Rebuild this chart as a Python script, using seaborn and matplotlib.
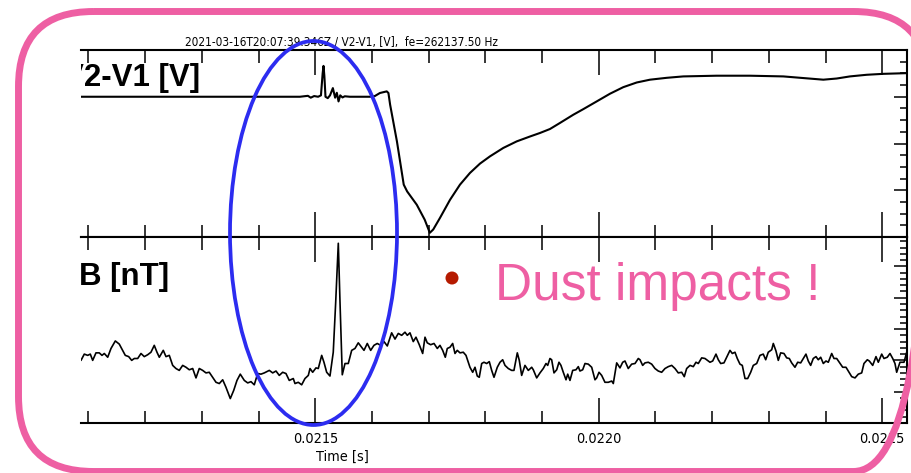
import numpy as np
import matplotlib
matplotlib.use("Agg")
import matplotlib.pyplot as plt
import seaborn as sns
from matplotlib import font_manager as fm
from matplotlib.ticker import MultipleLocator, FormatStrFormatter, NullFormatter
from matplotlib.patches import FancyBboxPatch, Ellipse
from matplotlib.transforms import Affine2D

# ---- V2-V1 antenna voltage (time in microseconds, volts) ----
v_time_us = [21086.8, 21473, 21487, 21492, 21498, 21505, 21510, 21513, 21514.5, 21516,
             21518, 21522, 21526, 21531, 21535, 21538, 21541, 21544, 21548, 21552,
             21561, 21596, 21605, 21614, 21626, 21629, 21632, 21644, 21656, 21662,
             21679, 21693, 21702, 21708, 21720, 21737.6, 21755.2, 21772.8, 21790.5, 21808.1,
             21831.6, 21855.2, 21878.7, 21896.3, 21913.9, 21931.6, 21955.0, 21972.7, 21996.3, 22019.8,
             22043.2, 22066.9, 22090.3, 22119.8, 22149.0, 22207.9, 22266.7, 22325.4, 22360.7, 22396.0,
             22419.6, 22443.0, 22472.5, 22501.8, 22544.0]
v_volts = [0.0, 0.0, 0.004, -0.004, 0.003, 0.0, 0.006, 0.10, 0.132, 0.09,
           0.0, -0.006, 0.006, 0.037, -0.004, 0.017, -0.020, 0.006, -0.003, 0.002,
           0.0, 0.0, 0.003, 0.016, 0.023, 0.016, -0.034, -0.191, -0.376, -0.405,
           -0.462, -0.526, -0.582, -0.568, -0.518, -0.441, -0.376, -0.326, -0.286, -0.255,
           -0.219, -0.191, -0.170, -0.155, -0.138, -0.112, -0.077, -0.053, -0.020, 0.013,
           0.041, 0.061, 0.073, 0.081, 0.087, 0.090, 0.090, 0.087, 0.080, 0.073,
           0.078, 0.087, 0.094, 0.098, 0.101]

# ---- search-coil magnetic field (time in microseconds, nT) ----
b_time_us = [21086.8, 21092.6, 21098.6, 21103.2, 21107.4, 21113.2, 21119.0, 21123.8, 21127.9, 21133.9,
             21139.7, 21147.3, 21154.3, 21160.3, 21164.9, 21170.9, 21176.2, 21180.8, 21186.8, 21192.6,
             21198.4, 21204.4, 21210.2, 21216.0, 21220.8, 21224.9, 21231.9, 21236.7, 21242.5, 21248.5,
             21254.3, 21260.1, 21266.1, 21272.0, 21277.8, 21283.8, 21289.6, 21295.4, 21301.4, 21307.2,
             21313.0, 21319.0, 21324.9, 21330.7, 21336.7, 21342.5, 21350.1, 21356.1, 21361.9, 21367.7,
             21374.8, 21380.8, 21386.6, 21392.4, 21398.4, 21404.2, 21410.1, 21418.9, 21424.9, 21430.7,
             21436.5, 21442.5, 21448.3, 21454.1, 21461.2, 21464.2, 21470.0, 21476.0, 21481.8, 21487.7,
             21490.7, 21495.4, 21501.2, 21505.3, 21511.3, 21515.3, 21520.1, 21525.9, 21531.7, 21536.0,
             21540.6, 21543.6, 21547.6, 21552.4, 21558.2, 21564.2, 21570.0, 21575.8, 21581.8, 21585.9,
             21591.7, 21597.7, 21603.5, 21609.3, 21615.3, 21621.2, 21627.0, 21634.7, 21640.6, 21646.4,
             21652.4, 21658.2, 21662.3, 21667.0, 21672.8, 21677.6, 21683.4, 21689.4, 21693.5, 21697.5,
             21703.5, 21709.4, 21715.2, 21719.9, 21724.7, 21729.3, 21732.8, 21737.6, 21742.3, 21746.4,
             21750.4, 21755.2, 21761.0, 21765.8, 21769.8, 21772.8, 21777.6, 21781.7, 21785.7, 21789.2,
             21793.5, 21797.5, 21802.3, 21806.9, 21811.1, 21815.2, 21821.0, 21825.8, 21830.5, 21834.6,
             21840.4, 21846.4, 21850.4, 21856.3, 21859.8, 21864.0, 21869.8, 21875.7, 21881.7, 21884.5,
             21890.5, 21896.3, 21902.1, 21906.9, 21909.9, 21913.9, 21916.9, 21921.0, 21925.8, 21929.8,
             21933.3, 21937.4, 21942.2, 21945.2, 21949.2, 21954.0, 21959.8, 21963.9, 21966.8, 21971.6,
             21975.7, 21981.5, 21987.5, 21993.3, 21996.3, 22000.4, 22005.1, 22010.9, 22016.8, 22022.8,
             22025.6, 22031.6, 22037.4, 22042.2, 22046.2, 22052.0, 22058.0, 22063.9, 22069.7, 22072.7,
             22077.4, 22081.5, 22087.3, 22093.3, 22099.1, 22104.9, 22110.9, 22116.8, 22122.6, 22128.6,
             22134.4, 22140.2, 22146.2, 22150.8, 22155.0, 22160.9, 22166.7, 22171.4, 22175.5, 22181.5,
             22187.3, 22193.1, 22196.1, 22200.9, 22206.7, 22210.8, 22215.0, 22220.8, 22225.6, 22231.4,
             22235.5, 22240.2, 22244.3, 22249.0, 22253.1, 22257.9, 22262.6, 22267.9, 22272.5, 22278.5,
             22284.3, 22290.1, 22294.4, 22298.9, 22305.0, 22307.8, 22312.5, 22316.6, 22320.8, 22326.6,
             22331.4, 22336.0, 22340.2, 22346.0, 22350.8, 22356.1, 22360.7, 22365.4, 22369.5, 22373.7,
             22378.3, 22383.1, 22387.1, 22391.4, 22396.0, 22400.7, 22404.8, 22410.8, 22414.8, 22419.6,
             22424.2, 22430.2, 22436.0, 22440.1, 22446.1, 22451.9, 22457.7, 22463.7, 22467.7, 22473.6,
             22477.1, 22483.1, 22488.9, 22493.0, 22499.0, 22503.0, 22508.8, 22513.6, 22518.4, 22522.4,
             22525.4, 22531.2, 22538.3, 22543.1]
b_nT = [0.00, 0.10, 0.08, 0.10, 0.00, 0.12, 0.12, 0.08, 0.11, 0.05,
        0.19, 0.31, 0.26, 0.16, 0.08, 0.06, 0.00, 0.03, 0.03, 0.11,
        0.06, 0.09, 0.13, 0.24, 0.13, 0.05, 0.16, 0.06, 0.08, -0.08,
        -0.13, -0.16, -0.08, -0.11, -0.15, -0.13, -0.28, -0.13, -0.16, -0.20,
        -0.19, -0.27, -0.35, -0.37, -0.31, -0.43, -0.61, -0.48, -0.32, -0.22,
        -0.32, -0.36, -0.34, -0.39, -0.21, -0.22, -0.20, -0.16, -0.20, -0.17,
        -0.24, -0.19, -0.21, -0.32, -0.29, -0.37, -0.35, -0.39, -0.29, -0.24,
        -0.13, -0.19, -0.12, -0.13, 0.08, -0.03, -0.19, -0.25, 0.13, 0.93,
        1.87, 0.93, -0.23, -0.05, -0.05, 0.16, 0.19, 0.28, 0.21, 0.16,
        0.27, 0.16, 0.24, 0.27, 0.24, 0.30, 0.23, 0.44, 0.34, 0.43,
        0.40, 0.45, 0.40, 0.44, 0.30, 0.37, 0.25, 0.11, 0.37, 0.28,
        0.25, 0.27, 0.19, 0.24, 0.16, 0.05, 0.19, 0.21, 0.27, 0.11,
        0.16, 0.12, 0.13, 0.08, -0.03, -0.11, -0.19, -0.11, -0.25, -0.27,
        -0.05, -0.03, -0.05, -0.02, -0.16, -0.27, -0.11, -0.03, 0.01, -0.08,
        -0.13, -0.16, -0.16, 0.12, 0.00, -0.24, -0.08, -0.16, -0.11, -0.15,
        -0.28, -0.20, -0.13, -0.05, -0.08, 0.03, 0.01, -0.20, -0.15, -0.03,
        -0.08, -0.19, -0.31, -0.22, -0.32, -0.16, -0.15, -0.10, -0.17, -0.15,
        -0.05, -0.06, -0.11, -0.31, -0.28, -0.19, -0.24, -0.35, -0.35, -0.33,
        -0.37, -0.04, -0.12, -0.03, -0.01, -0.13, -0.06, -0.05, 0.03, 0.01,
        -0.08, -0.04, -0.03, -0.06, -0.13, -0.17, -0.19, -0.13, -0.10, -0.08,
        -0.13, -0.20, -0.19, -0.26, -0.13, -0.08, -0.10, -0.03, -0.05, 0.04,
        0.03, -0.01, -0.03, -0.01, 0.10, 0.01, -0.05, -0.04, 0.05, 0.16,
        0.11, 0.13, 0.03, -0.06, -0.08, -0.29, -0.29, -0.19, -0.08, -0.05,
        0.08, 0.10, 0.01, 0.13, 0.17, 0.27, 0.15, 0.00, 0.12, 0.11,
        0.04, 0.03, -0.04, -0.11, -0.03, -0.04, 0.03, 0.10, -0.01, -0.08,
        0.03, 0.06, 0.01, 0.05, -0.05, -0.01, -0.03, 0.11, 0.03, 0.03,
        -0.03, -0.11, -0.11, -0.17, -0.26, -0.28, -0.22, -0.20, -0.05, 0.01,
        -0.01, -0.08, 0.06, -0.03, 0.10, 0.03, 0.05, 0.11, 0.03, -0.05,
        -0.19, -0.03, -0.03, 0.13]

title_text = "2021-03-16T20:07:39.346Z / V2-V1, [V],  fe=262137.50 Hz"
time_range_us = (21086.8, 22543.6)
v_range = (-0.6, 0.2)
b_range = (-1.0, 1.97)

PINK = "#EE5FA3"
ARIAL = ["Liberation Sans", "DejaVu Sans"]
W_PX, H_PX, DPI = 912, 473, 100

sns.set_theme(style="white", rc={
    "axes.edgecolor": "black", "xtick.color": "black", "ytick.color": "black",
    "text.color": "black", "axes.labelcolor": "black", "axes.linewidth": 1.5,
})
plt.rcParams["font.family"] = ARIAL


def _upright(f):
    return f.style == "normal" and f.weight in (400, "normal", "regular", "book")


def narrow_font(size):
    """Pick an upright narrow/condensed face for the plot annotations."""
    for name, stretch, k in (("Liberation Sans Narrow", None, 1.0),
                             ("DejaVu Sans", "condensed", 0.86)):
        for f in fm.fontManager.ttflist:
            if f.name == name and _upright(f) and (stretch is None or f.stretch == stretch):
                return fm.FontProperties(fname=f.fname, size=size * k)
    return fm.FontProperties(family="Liberation Sans", size=size * 0.82)


fig = plt.figure(figsize=(W_PX / DPI, H_PX / DPI), dpi=DPI)
fig.patch.set_facecolor("white")

left, width = 81 / W_PX, 826 / W_PX
ax_v = fig.add_axes([left, 236 / H_PX, width, 187 / H_PX])
ax_b = fig.add_axes([left, 50 / H_PX, width, 186 / H_PX])

t_v = np.array(v_time_us) * 1e-6
t_b = np.array(b_time_us) * 1e-6

sns.lineplot(x=t_v, y=v_volts, ax=ax_v, color="black", linewidth=1.5,
             sort=False, estimator=None)
sns.lineplot(x=t_b, y=b_nT, ax=ax_b, color="black", linewidth=1.2,
             sort=False, estimator=None)

for ax in (ax_v, ax_b):
    ax.set_xlim(time_range_us[0] * 1e-6, time_range_us[1] * 1e-6)
    ax.spines["left"].set_visible(False)
    for s in ("top", "bottom", "right"):
        ax.spines[s].set_linewidth(1.5)
    ax.xaxis.set_major_locator(MultipleLocator(0.0005))
    ax.xaxis.set_minor_locator(MultipleLocator(0.0001))
    ax.tick_params(axis="x", which="major", direction="in", length=18, width=1.1,
                   top=True, bottom=True)
    ax.tick_params(axis="x", which="minor", direction="in", length=9, width=1.1,
                   top=True, bottom=True)
    ax.tick_params(axis="y", which="major", direction="in", length=9.5, width=1.1,
                   left=False, right=True, labelleft=False, labelright=False)
    ax.tick_params(axis="y", which="minor", direction="in", length=5, width=1.1,
                   left=False, right=True)
    ax.set_xlabel("")
    ax.set_ylabel("")

ax_v.set_ylim(*v_range)
ax_v.yaxis.set_major_locator(MultipleLocator(0.2))
ax_v.yaxis.set_minor_locator(MultipleLocator(0.05))
ax_v.tick_params(axis="x", labelbottom=False)

ax_b.set_ylim(*b_range)
ax_b.yaxis.set_major_locator(MultipleLocator(0.5))
ax_b.yaxis.set_minor_locator(MultipleLocator(0.1))
ax_b.xaxis.set_major_formatter(FormatStrFormatter("%.4f"))
ax_b.xaxis.set_minor_formatter(NullFormatter())
ax_b.tick_params(axis="x", which="major", labelbottom=True, pad=6.5)

fp_tick = narrow_font(12.0)
for lab in ax_b.get_xticklabels():
    lab.set_fontproperties(fp_tick)

ax_b.set_xlabel("Time [s]", fontproperties=narrow_font(12.0))
ax_b.xaxis.set_label_coords(0.316, -0.145)

ax_v.set_title(title_text, fontproperties=narrow_font(9.9), x=0.315, pad=3)

ax_v.text(-0.0215, 0.807, "V2-V1 [V]", transform=ax_v.transAxes, family=ARIAL,
          fontweight="bold", fontsize=22.5, va="baseline", ha="left", clip_on=True)
ax_b.text(-0.003, 0.742, "B [nT]", transform=ax_b.transAxes, family=ARIAL,
          fontweight="bold", fontsize=22.5, va="baseline", ha="left", clip_on=True)

# Slide decorations, laid out in pixels measured from the top-left corner
px = Affine2D().scale(1, -1).translate(0, H_PX)   # top-left pixel -> display

frame = FancyBboxPatch((18.5, 11.5), 910.0, 460,
                       boxstyle="round,pad=0,rounding_size=75",
                       fill=False, edgecolor=PINK, linewidth=5,
                       transform=px)
fig.add_artist(frame)

fig.add_artist(Ellipse((313.5, 233), 167, 384, fill=False,
                       edgecolor="#2C2CF0", linewidth=2.7, transform=px))
fig.add_artist(Ellipse((452, 278), 13, 13, facecolor="#B51A00",
                       edgecolor="none", transform=px))
fig.text(495, H_PX - 300, "Dust impacts !", family=ARIAL, fontsize=37, color=PINK,
         va="baseline", ha="left", transform=None)

fig.savefig("out.png", dpi=DPI, facecolor="white")
